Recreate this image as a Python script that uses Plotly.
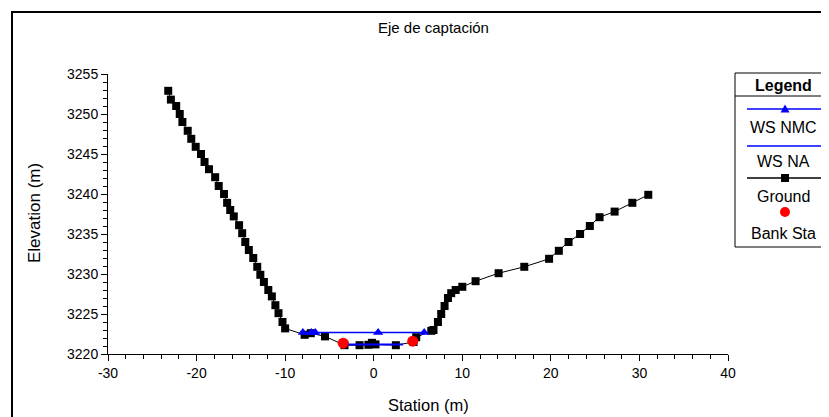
import plotly.graph_objects as go

# ---------------- data ----------------
ground_x = [-23.2, -22.9, -22.3, -21.9, -21.6, -21.0, -20.6, -20.1, -19.5, -19.1,
            -18.6, -17.9, -17.5, -16.9, -16.55, -16.2, -15.8, -15.2, -14.85, -14.5,
            -14.1, -13.6, -13.15, -12.8, -12.4, -11.9, -11.5, -11.1, -10.75, -10.3,
            -10.0, -7.8, -7.1, -5.5, -3.3, -1.6, -0.6, -0.2, 0.2, 2.5,
            4.5, 4.8, 6.5, 6.75, 7.25, 7.62, 8.0, 8.38, 8.75, 9.25,
            10.0, 11.5, 14.1, 17.0, 19.8, 20.9, 22.0, 23.3, 24.4, 25.5,
            27.2, 29.2, 31.0]
ground_y = [3252.9, 3251.8, 3251.0, 3250.0, 3249.0, 3247.9, 3246.9, 3245.9, 3245.0, 3244.0,
            3243.1, 3242.1, 3241.0, 3240.0, 3238.9, 3238.0, 3237.2, 3236.1, 3235.1, 3234.0,
            3233.0, 3232.0, 3230.9, 3229.9, 3229.0, 3228.0, 3227.2, 3226.1, 3225.1, 3224.0,
            3223.2, 3222.4, 3222.6, 3222.2, 3221.1, 3221.1, 3221.15, 3221.4, 3221.2, 3221.1,
            3221.5, 3222.1, 3222.9, 3223.0, 3224.0, 3225.0, 3226.0, 3227.0, 3227.6, 3228.0,
            3228.4, 3229.1, 3230.1, 3230.9, 3231.9, 3232.9, 3234.0, 3235.0, 3236.0, 3237.1,
            3237.8, 3238.9, 3239.9]

ws_nmc_x = [-8.0, -7.05, -6.6, 0.5, 5.7]
ws_nmc_y = [3222.7, 3222.7, 3222.7, 3222.7, 3222.7]

ws_na_x = [-3.35, 3.3]
ws_na_y = [3221.2, 3221.2]

bank_x = [-3.45, 4.4]
bank_y = [3221.35, 3221.6]

x_tick_vals = [-30, -20, -10, 0, 10, 20, 30, 40]
x_tick_text = ["-30", "-20", "-10", "0", "10", "20", "30", "40"]
y_tick_vals = [3220, 3225, 3230, 3235, 3240, 3245, 3250, 3255]
y_tick_text = ["3220", "3225", "3230", "3235", "3240", "3245", "3250", "3255"]

title_text = "Eje de captación"
x_title = "Station (m)"
y_title = "Elevation (m)"
legend_title = "Legend"
legend_labels = ["WS NMC", "WS NA", "Ground", "Bank Sta"]
x_range = [-30, 40]
y_range = [3220, 3255]

# ---------------- layout helpers (page pixel -> paper) ----------------
OFF = 8                      # default page body margin
W, H = 829 - OFF, 417 - OFF
L, T = 100, 66
PW, PH = 620, 280
R, B = W - L - PW, H - T - PH


def px(x):
    return (x - OFF - L) / PW


def py(y):
    return (T + PH + OFF - y) / PH


FONT = "Liberation Sans, Arial, sans-serif"
FS_TICK = 14
FS_TXT = 16
BLUE = "#0000ff"

fig = go.Figure()

fig.add_trace(go.Scatter(x=ground_x, y=ground_y, mode="lines+markers", name=legend_labels[2],
                         line=dict(color="black", width=1),
                         marker=dict(symbol="square", size=8, color="black")))
fig.add_trace(go.Scatter(x=ws_na_x, y=ws_na_y, mode="lines", name=legend_labels[1],
                         line=dict(color=BLUE, width=2)))
fig.add_trace(go.Scatter(x=ws_nmc_x, y=ws_nmc_y, mode="lines+markers", name=legend_labels[0],
                         line=dict(color=BLUE, width=1.5),
                         marker=dict(symbol="triangle-up", size=9, color=BLUE)))
fig.add_trace(go.Scatter(x=bank_x, y=bank_y, mode="markers", name=legend_labels[3],
                         marker=dict(symbol="circle", size=11, color="red")))

axis_common = dict(showline=True, linecolor="black", linewidth=1, mirror=False,
                   showgrid=False, zeroline=False, ticks="outside", tickcolor="black",
                   tickwidth=1, ticklen=6, tickmode="array",
                   tickfont=dict(family=FONT, size=FS_TICK, color="black"))

fig.update_xaxes(range=x_range, tickvals=x_tick_vals, ticktext=x_tick_text,
                 minor=dict(dtick=2, tick0=0, ticks="outside", ticklen=4, tickcolor="black",
                            showgrid=False),
                 **axis_common)
fig.update_yaxes(range=y_range, tickvals=y_tick_vals, ticktext=y_tick_text,
                 minor=dict(dtick=1, tick0=3220, ticks="outside", ticklen=4, tickcolor="black",
                            showgrid=False),
                 **axis_common)

shapes = []
annotations = []


def label(text, x, y, angle=0, size=FS_TXT):
    annotations.append(dict(text=text, x=px(x), y=py(y), xref="paper", yref="paper",
                            xanchor="center", yanchor="middle", showarrow=False,
                            textangle=angle, font=dict(family=FONT, size=size, color="black")))


# outer frame
shapes.append(dict(type="rect", xref="paper", yref="paper", x0=px(12), x1=px(850),
                   y0=py(440), y1=py(12), line=dict(color="black", width=2)))

# titles
label(title_text, 433, 28, size=15)
label(x_title, 428, 405, size=16.5)
label(y_title, 34, 213, angle=-90, size=17)

# custom legend box
lx0, lx1, ly0, ly1 = 735, 827, 73, 247
cx = 785
tx = 783
shapes.append(dict(type="rect", xref="paper", yref="paper", x0=px(lx0), x1=px(lx1),
                   y0=py(ly1), y1=py(ly0), line=dict(color="black", width=1),
                   fillcolor="white", layer="below"))
shapes.append(dict(type="line", xref="paper", yref="paper", x0=px(lx0), x1=px(lx1),
                   y0=py(96), y1=py(96), line=dict(color="black", width=1)))
label("<b>" + legend_title + "</b>", tx, 85)

# WS NMC entry
shapes.append(dict(type="line", xref="paper", yref="paper", x0=px(747), x1=px(823),
                   y0=py(109), y1=py(109), line=dict(color=BLUE, width=1.5)))
shapes.append(dict(type="path", xref="paper", yref="paper",
                   path=f"M {px(cx-4.5)},{py(112.5)} L {px(cx+4.5)},{py(112.5)} L {px(cx)},{py(104.5)} Z",
                   fillcolor=BLUE, line=dict(color=BLUE, width=0)))
label(legend_labels[0], tx, 127)
# WS NA entry
shapes.append(dict(type="line", xref="paper", yref="paper", x0=px(747), x1=px(823),
                   y0=py(146), y1=py(146), line=dict(color=BLUE, width=1.5)))
label(legend_labels[1], tx, 161)
# Ground entry
shapes.append(dict(type="line", xref="paper", yref="paper", x0=px(747), x1=px(823),
                   y0=py(178), y1=py(178), line=dict(color="black", width=1.5)))
shapes.append(dict(type="rect", xref="paper", yref="paper", x0=px(cx-4), x1=px(cx+4),
                   y0=py(182), y1=py(174), fillcolor="black", line=dict(color="black", width=0)))
label(legend_labels[2], tx, 196)
# Bank Sta entry
shapes.append(dict(type="circle", xref="paper", yref="paper", x0=px(cx-5), x1=px(cx+5),
                   y0=py(217), y1=py(207), fillcolor="red", line=dict(color="red", width=0)))
label(legend_labels[3], tx, 233)

fig.update_layout(width=W, height=H, margin=dict(l=L, r=R, t=T, b=B, pad=0),
                  paper_bgcolor="white", plot_bgcolor="white", showlegend=False,
                  shapes=shapes, annotations=annotations,
                  font=dict(family=FONT, size=FS_TXT, color="black"))

fig.write_html("out.html")
